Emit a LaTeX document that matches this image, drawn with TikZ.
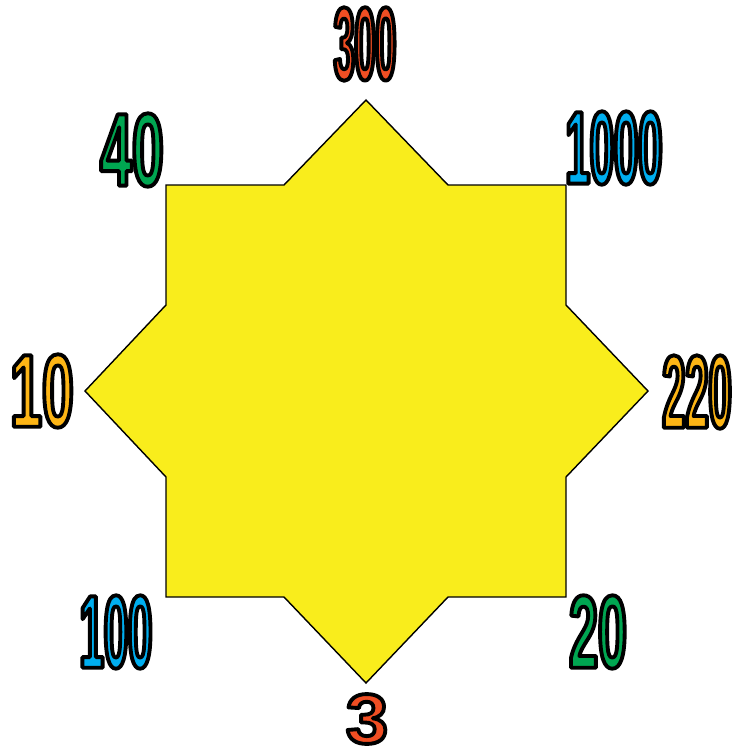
\documentclass[tikz,border=0pt]{standalone}
\usepackage{fontspec}
\usepackage{xcolor}
\setmainfont{Liberation Sans}
\newfontfamily\digitfont{Liberation Sans Bold}
\definecolor{staryellow}{HTML}{F9ED1C}
\definecolor{numred}{HTML}{F04E23}
\definecolor{numgreen}{HTML}{00A651}
\definecolor{numblue}{HTML}{00AEEF}
\definecolor{numorange}{HTML}{FDB515}
% filled digits with a black outline
\newcommand{\outlinenum}[2]{{\color{#1}\special{pdf:literal 2 Tr 2.2 w 1 j 0 0 0 RG}#2\special{pdf:literal 0 Tr}}}

\begin{document}
\begin{tikzpicture}[
        x=0.02cm, y=-0.02cm,
        num_node/.style={
            inner sep=0pt,
            font=\digitfont\addfontfeatures{FakeStretch=#1}\fontsize{59}{59}\selectfont
        },
        wide_node/.style={
            inner sep=0pt,
            font=\digitfont\addfontfeatures{FakeStretch=1.08}\fontsize{40}{40}\selectfont
        },
        star_shape/.style={
            draw=black,
            line width=0.8pt,
            fill=staryellow
        }
    ]
    \useasboundingbox (0,0) rectangle (740,751);

    % Eight-pointed star
    \draw[star_shape] (366,100) -- (448,185) -- (566,185) -- (566,305)
        -- (648,391) -- (566,477) -- (566,597) -- (448,597)
        -- (366,683) -- (284,597) -- (166,597) -- (166,477)
        -- (85,391) -- (166,305) -- (166,185) -- (284,185) -- cycle;

    % Numbers round the star
    \node[num_node=0.36] (n300) at (365,44) {\outlinenum{numred}{300}};
    \node[num_node=0.42] (n1000) at (614,148) {\outlinenum{numblue}{1000}};
    \node[num_node=0.40] (n220) at (697,392) {\outlinenum{numorange}{220}};
    \node[num_node=0.50] (n20) at (598,632) {\outlinenum{numgreen}{20}};
    \node[wide_node] (n3) at (367,719) {\outlinenum{numred}{3}};
    \node[num_node=0.42] (n100) at (116,632) {\outlinenum{numblue}{100}};
    \node[num_node=0.55] (n10) at (42,391) {\outlinenum{numorange}{10}};
    \node[num_node=0.55] (n40) at (132,150) {\outlinenum{numgreen}{40}};

\end{tikzpicture}
\end{document}
